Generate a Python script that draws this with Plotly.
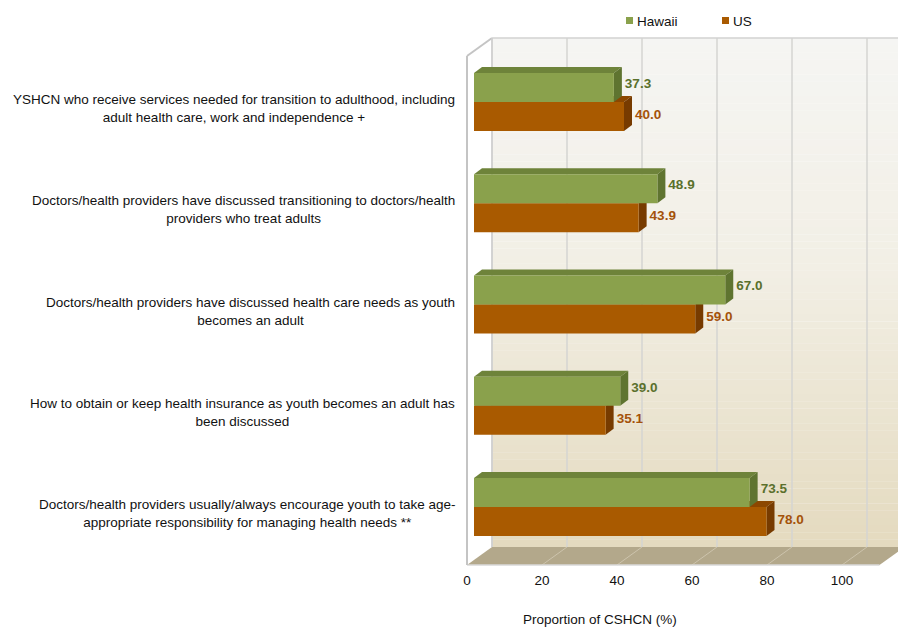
import plotly.graph_objects as go

# ---- data -----------------------------------------------------------------
categories = [
    "YSHCN who receive services needed for transition to adulthood, including<br>adult health care, work and independence +",
    "Doctors/health providers have discussed transitioning to doctors/health<br>providers who treat adults",
    "Doctors/health providers have discussed health care needs as youth<br>becomes an adult",
    "How to obtain or keep health insurance as youth becomes an adult has<br>been discussed",
    "Doctors/health providers usually/always encourage youth to take age-<br>appropriate responsibility for managing health needs **",
]
hawaii = [37.3, 48.9, 67.0, 39.0, 73.5]
us = [40.0, 43.9, 59.0, 35.1, 78.0]
series_names = ["Hawaii", "US"]
x_ticks = [0, 20, 40, 60, 80, 100]
x_max = 110
x_title = "Proportion of CSHCN (%)"

# ---- styling / geometry (pixels) ------------------------------------------
W, H = 898, 628
PLOT_L, PLOT_R, PLOT_T, PLOT_B = 462, 898, 30, 570
ZERO_PX = 474            # horizontal pixel of value 0 on the bar faces
PX_PER_UNIT = 3.75
FIRST_ROW_PX = 102       # vertical centre of the first category
ROW_PX = 101.25
BAR_PX = 29              # thickness of one bar
BAR_DEPTH = (8, 6)       # 3-D extrusion of the bars (right, up)
FRONT_SHIFT = (-7, 5)    # front plane of the box relative to bar faces
WALL_DEPTH = (25, 18)    # depth of the box (right, up)
FRONT_TOP_PX, FRONT_BOTTOM_PX = 56, 565

FONT = "Liberation Sans, Arial, sans-serif"
FS = 13.5
TXT = "#111111"
C_HI = "#8aa14c"
C_HI_TOP = "#6e833a"
C_HI_SIDE = "#5f7430"
C_US = "#a95a00"
C_US_TOP = "#8c4700"
C_US_SIDE = "#773b00"
C_HI_TXT = "#5a702c"
C_US_TXT = "#a4520a"

n = len(categories)
pos = [n - 1 - i for i in range(n)]


def xv(px):
    return (px - ZERO_PX) / PX_PER_UNIT


def yv(px):
    return (n - 1) - (px - FIRST_ROW_PX) / ROW_PX


def dxv(px):
    return px / PX_PER_UNIT


def dyv(px):
    return px / ROW_PX


def paper_x(px):
    return (px - PLOT_L) / (PLOT_R - PLOT_L)


def paper_y(px):
    return (PLOT_B - px) / (PLOT_B - PLOT_T)


bar_w = dyv(BAR_PX)
ddx, ddy = dxv(BAR_DEPTH[0]), dyv(BAR_DEPTH[1])

# box corners in data coordinates
fx0 = dxv(FRONT_SHIFT[0])                 # front plane value 0
fx1 = fx0 + x_max
f_top, f_bot = yv(FRONT_TOP_PX), yv(FRONT_BOTTOM_PX)
wdx, wdy = dxv(WALL_DEPTH[0]), dyv(WALL_DEPTH[1])

shapes = []


def poly(points, fill, layer="below"):
    path = "M " + " L ".join(f"{x},{y}" for x, y in points) + " Z"
    shapes.append(dict(type="path", path=path, xref="x", yref="y",
                       fillcolor=fill, layer=layer, line=dict(width=0)))


def seg(x0, y0, x1, y1, color, width):
    shapes.append(dict(type="line", x0=x0, y0=y0, x1=x1, y1=y1, xref="x",
                       yref="y", layer="below",
                       line=dict(color=color, width=width)))


# back wall with a soft vertical gradient
stops = [(0.0, (245, 245, 243)), (0.45, (242, 239, 229)), (1.0, (228, 218, 190))]


def grad(t):
    for (t0, c0), (t1, c1) in zip(stops[:-1], stops[1:]):
        if t0 <= t <= t1:
            f = (t - t0) / (t1 - t0)
            return "rgb(%d,%d,%d)" % tuple(round(a + (b - a) * f) for a, b in zip(c0, c1))
    return "rgb(%d,%d,%d)" % stops[-1][1]


bw_x0, bw_x1 = fx0 + wdx, fx1 + wdx
bw_top, bw_bot = f_top + wdy, f_bot + wdy
bands = 70
for k in range(bands):
    y_hi = bw_top - (bw_top - bw_bot) * k / bands
    y_lo = bw_top - (bw_top - bw_bot) * (k + 1) / bands
    shapes.append(dict(type="rect", xref="x", yref="y", x0=bw_x0, x1=bw_x1 + 5,
                       y0=y_lo, y1=y_hi + 0.002, fillcolor=grad((k + 0.5) / bands),
                       line=dict(width=0), layer="below"))

# left side wall
poly([(fx0, f_bot), (fx0, f_top), (fx0 + wdx, f_top + wdy), (fx0 + wdx, f_bot + wdy)],
     "#ffffff")

# back-wall grid lines
for t in x_ticks:
    seg(fx0 + t + wdx, bw_bot, fx0 + t + wdx, bw_top, "#d4d4d2", 1.5)
seg(bw_x0, bw_top, bw_x1 + 5, bw_top, "#d2d2d2", 1.5)

# floor
poly([(fx0, f_bot), (fx1, f_bot), (fx1 + wdx, f_bot + wdy), (fx0 + wdx, f_bot + wdy)],
     "#b3a88b")
for t in x_ticks[1:]:
    seg(fx0 + t, f_bot, fx0 + t + wdx, f_bot + wdy, "#cdc4ad", 1)
seg(fx0, f_bot, fx1, f_bot, "#d9d9d9", 1.5)

# wall outlines
seg(fx0, f_bot, fx0, f_top, "#c4c4c4", 2)
seg(fx0, f_top, fx0 + wdx, f_top + wdy, "#c4c4c4", 2)
seg(fx0 + wdx, bw_bot, fx0 + wdx, bw_top, "#cfcfcf", 1.5)


# 3-D tops and sides of the bars (US first so Hawaii overlaps it)
def extrude(vals, lo_off, top_col, side_col):
    for v, p in zip(vals, pos):
        lo = p + lo_off
        hi = lo + bar_w
        poly([(0, hi), (v, hi), (v + ddx, hi + ddy), (ddx, hi + ddy)], top_col)
        poly([(v, lo), (v, hi), (v + ddx, hi + ddy), (v + ddx, lo + ddy)], side_col)


extrude(us, -bar_w, C_US_TOP, C_US_SIDE)
extrude(hawaii, 0, C_HI_TOP, C_HI_SIDE)

fig = go.Figure()
fig.add_trace(go.Bar(y=pos, x=us, orientation="h", width=bar_w, offset=-bar_w,
                     marker=dict(color=C_US, line=dict(width=0)),
                     name=series_names[1], showlegend=False, hoverinfo="x"))
fig.add_trace(go.Bar(y=pos, x=hawaii, orientation="h", width=bar_w, offset=0,
                     marker=dict(color=C_HI, line=dict(width=0)),
                     name=series_names[0], showlegend=False, hoverinfo="x"))

# value labels beside each bar
lab_dx = dxv(BAR_DEPTH[0] + 3)
fig.add_trace(go.Scatter(
    x=[v + lab_dx for v in hawaii], y=[p + bar_w / 2 + dyv(3) for p in pos],
    mode="text", text=[f"{v:.1f}" for v in hawaii], textposition="middle right",
    textfont=dict(family=FONT, size=FS, color=C_HI_TXT, weight="bold"),
    showlegend=False, hoverinfo="skip", cliponaxis=False))
fig.add_trace(go.Scatter(
    x=[v + lab_dx for v in us], y=[p - bar_w / 2 + dyv(1) for p in pos],
    mode="text", text=[f"{v:.1f}" for v in us], textposition="middle right",
    textfont=dict(family=FONT, size=FS, color=C_US_TXT, weight="bold"),
    showlegend=False, hoverinfo="skip", cliponaxis=False))

annotations = []
# category labels: centred lines, block right-aligned next to the box
for c, p in zip(categories, pos):
    annotations.append(dict(text=c, xref="paper", yref="y", x=paper_x(457),
                            y=p - dyv(6.5), xanchor="right", yanchor="middle",
                            align="center", showarrow=False,
                            font=dict(family=FONT, size=FS, color=TXT)))
# axis title
annotations.append(dict(text=x_title, xref="paper", yref="paper", x=paper_x(600),
                        y=paper_y(619), xanchor="center", yanchor="middle",
                        showarrow=False, font=dict(family=FONT, size=FS, color=TXT)))

# legend
legend_items = [(series_names[0], C_HI, 626), (series_names[1], C_US, 722)]
for name, col, lx in legend_items:
    shapes.append(dict(type="rect", xref="paper", yref="paper",
                       x0=paper_x(lx), x1=paper_x(lx + 7),
                       y0=paper_y(24), y1=paper_y(17), fillcolor=col,
                       line=dict(width=0), layer="above"))
    annotations.append(dict(text=name, xref="paper", yref="paper",
                            x=paper_x(lx + 9), y=paper_y(21), xanchor="left",
                            yanchor="middle", showarrow=False,
                            font=dict(family=FONT, size=FS, color=TXT)))

fig.update_layout(
    width=W, height=H,
    margin=dict(l=PLOT_L, r=W - PLOT_R, t=PLOT_T, b=H - PLOT_B, pad=0),
    paper_bgcolor="white", plot_bgcolor="white",
    barmode="overlay",
    shapes=shapes, annotations=annotations,
    showlegend=False,
    xaxis=dict(range=[xv(PLOT_L), xv(PLOT_R)], showgrid=False, zeroline=False,
               showline=False, tickmode="array",
               tickvals=[fx0 + t for t in x_ticks],
               ticktext=[str(t) for t in x_ticks],
               tickfont=dict(family=FONT, size=FS, color=TXT),
               fixedrange=True),
    yaxis=dict(range=[yv(PLOT_B), yv(PLOT_T)], showgrid=False, zeroline=False,
               showline=False, showticklabels=False, fixedrange=True),
)

fig.write_html("out.html")
